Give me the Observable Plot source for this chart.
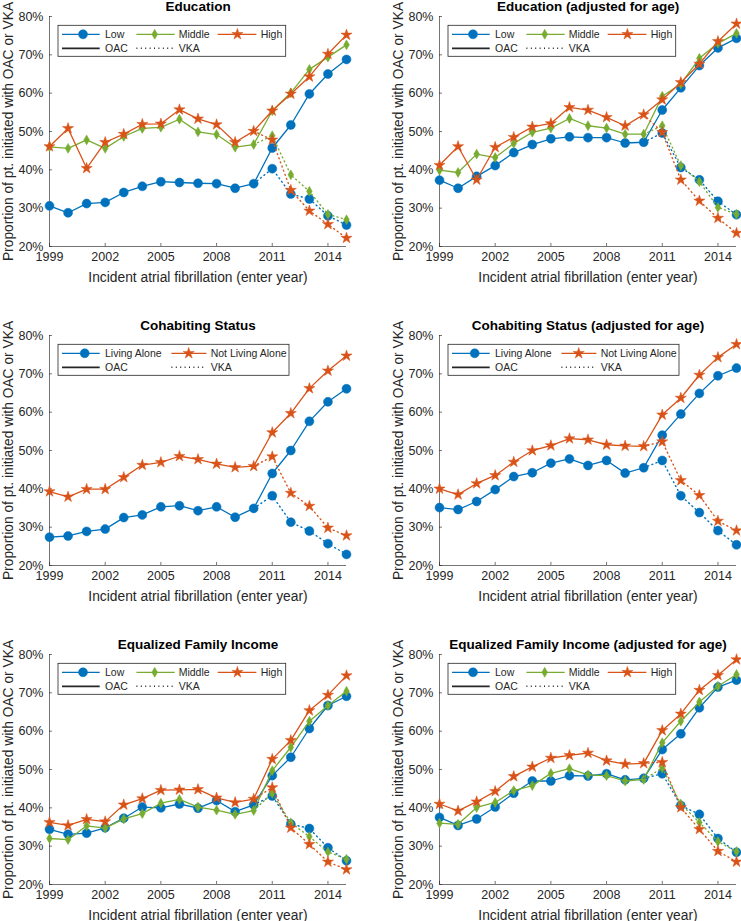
<!DOCTYPE html>
<html>
<head>
<meta charset="utf-8">
<script src="https://cdn.jsdelivr.net/npm/d3@7"></script>
<script src="https://cdn.jsdelivr.net/npm/@observablehq/plot@0.6"></script>
<style>
  body { margin: 0; background: #fff; }
  #wrap { position: relative; width: 741px; height: 921px; overflow: hidden; background: #fff; }
  .panel { position: absolute; }
  .panel svg { overflow: visible; }
  .panel g[aria-label$="tick label"] { font-size: 12.5px; }
  .panel g.legend text { text-anchor: start; font-size: 10.5px; }
</style>
</head>
<body>
<div id="wrap"></div>
<script>
// ---------- data ----------
const years = [1999, 2000, 2001, 2002, 2003, 2004, 2005, 2006, 2007, 2008, 2009, 2010, 2011, 2012, 2013, 2014, 2015];
const vkaYears = [2011, 2012, 2013, 2014, 2015];
const xTicks = [1999, 2002, 2005, 2008, 2011, 2014];
const yTicks = [20, 30, 40, 50, 60, 70, 80];

const titles = [
  "Education", "Education (adjusted for age)",
  "Cohabiting Status", "Cohabiting Status (adjusted for age)",
  "Equalized Family Income", "Equalized Family Income (adjusted for age)"
];
const xLabel = "Incident atrial fibrillation (enter year)";
const yLabel = "Proportion of pt. initiated with OAC or VKA";
const levelNames = ["Low", "Middle", "High"];
const cohabNames = ["Living Alone", "Not Living Alone"];
const typeNames = ["OAC", "VKA"];

// Education
const edu_low_oac  = [30.6,28.8,31.2,31.5,34.1,35.7,36.9,36.7,36.5,36.4,35.2,36.4,45.7,51.7,59.8,65.0,68.8];
const edu_mid_oac  = [46.0,45.6,47.8,45.6,48.7,50.8,51.1,53.2,49.9,49.2,45.9,46.6,55.4,60.1,66.2,69.4,72.6];
const edu_high_oac = [46.1,50.8,40.4,47.2,49.3,51.9,52.0,55.7,53.3,51.8,47.2,50.1,55.4,59.8,64.3,70.2,75.2];
const edu_low_vka  = [40.3,33.7,32.4,28.0,25.6];
const edu_mid_vka  = [48.9,38.7,34.4,28.4,27.0];
const edu_high_vka = [47.8,34.7,29.3,25.8,22.2];
// Education adjusted
const eduAdj_low_oac  = [37.3,35.2,38.3,41.1,44.5,46.6,48.1,48.6,48.4,48.4,47.0,47.2,55.6,61.4,67.2,71.8,74.3];
const eduAdj_mid_oac  = [39.9,39.3,44.1,43.2,46.9,49.8,50.9,53.4,51.5,50.9,49.3,49.3,59.2,62.4,69.1,73.0,75.6];
const eduAdj_high_oac = [41.2,46.1,37.4,45.9,48.5,51.2,52.1,56.3,55.6,53.7,51.5,54.4,58.3,62.8,67.6,73.5,78.1];
const eduAdj_low_vka  = [49.6,40.6,37.4,31.8,28.3];
const eduAdj_mid_vka  = [51.5,41.1,36.9,30.2,28.4];
const eduAdj_high_vka = [49.8,37.4,31.9,27.4,23.5];
// Cohabiting
const cohab_alone_oac = [27.4,27.7,28.9,29.5,32.5,33.2,35.3,35.6,34.3,35.3,32.6,34.9,44.0,50.0,57.6,62.7,66.1];
const cohab_not_oac   = [39.3,37.9,39.9,39.9,43.0,46.2,46.9,48.5,47.7,46.5,45.6,45.9,54.7,59.7,66.2,70.8,74.7];
const cohab_alone_vka = [38.2,31.3,29.0,25.7,22.9];
const cohab_not_vka   = [48.4,38.9,35.5,29.8,27.8];
// Cohabiting adjusted
const cohabAdj_alone_oac = [35.1,34.6,36.7,39.8,43.2,44.2,46.7,47.8,46.1,47.4,44.1,45.5,54.0,59.5,64.9,69.5,71.5];
const cohabAdj_not_oac   = [40.0,38.5,41.4,43.5,47.0,50.0,51.3,53.1,52.8,51.5,51.2,51.1,59.3,63.7,69.7,74.3,77.7];
const cohabAdj_alone_vka = [47.4,38.2,33.8,29.1,25.4];
const cohabAdj_not_vka   = [52.3,42.2,38.3,31.6,29.1];
// Income
const inc_low_oac  = [34.4,33.1,33.4,34.8,37.3,40.2,40.0,41.0,39.9,41.9,39.0,40.8,48.4,53.2,60.7,66.7,69.1];
const inc_mid_oac  = [32.0,31.7,35.3,34.7,37.1,38.5,41.2,42.2,40.2,39.4,38.3,39.3,49.7,55.8,62.6,66.7,70.4];
const inc_high_oac = [36.2,35.4,37.0,36.4,40.8,42.4,44.6,44.7,44.8,42.6,41.4,42.3,52.7,57.6,65.4,69.4,74.5];
const inc_low_vka  = [43.1,35.8,34.6,29.6,26.2];
const inc_mid_vka  = [43.8,36.1,32.5,28.5,26.6];
const inc_high_vka = [45.3,34.8,30.5,25.9,23.9];
// Income adjusted
const incAdj_low_oac  = [37.5,35.4,37.1,40.2,43.8,47.0,47.0,48.4,48.3,48.9,47.3,47.7,55.2,59.3,66.1,71.5,73.3];
const incAdj_mid_oac  = [36.0,35.7,40.1,41.4,44.5,45.8,49.0,50.2,48.6,48.4,47.0,47.4,57.0,62.6,67.6,71.7,74.8];
const incAdj_high_oac = [41.0,39.2,41.6,44.3,48.2,50.7,53.0,53.7,54.3,52.3,51.4,51.6,60.2,64.5,70.7,74.6,78.7];
const incAdj_low_vka  = [48.9,40.6,38.3,32.0,28.4];
const incAdj_mid_vka  = [50.4,41.0,36.2,31.2,28.6];
const incAdj_high_vka = [51.9,40.1,34.4,28.7,25.9];

// ---------- styles ----------
const BLUE = "#0072BD", GREEN = "#77AC30", ORANGE = "#D95319", INK = "#262626";
const FONT = "'Liberation Sans', Arial, Helvetica, sans-serif";
const DOTS = "1,3.4";
const styleLow  = {color: BLUE, symbol: "circle", r: 4.5};
const styleMid  = {color: GREEN, symbol: "diamond", r: 3.0};
const styleHigh = {color: ORANGE, symbol: "star", r: 3.5};

function three(lo, lov, mi, miv, hi, hiv) {
  return [
    {name: levelNames[0], oac: lo, vka: lov, ...styleLow},
    {name: levelNames[1], oac: mi, vka: miv, ...styleMid},
    {name: levelNames[2], oac: hi, vka: hiv, ...styleHigh}
  ];
}
function two(a, av, b, bv) {
  return [
    {name: cohabNames[0], oac: a, vka: av, ...styleLow},
    {name: cohabNames[1], oac: b, vka: bv, ...styleHigh}
  ];
}

const panels = [
  {title: titles[0], col: 0, row: 0, series: three(edu_low_oac, edu_low_vka, edu_mid_oac, edu_mid_vka, edu_high_oac, edu_high_vka)},
  {title: titles[1], col: 1, row: 0, series: three(eduAdj_low_oac, eduAdj_low_vka, eduAdj_mid_oac, eduAdj_mid_vka, eduAdj_high_oac, eduAdj_high_vka)},
  {title: titles[2], col: 0, row: 1, series: two(cohab_alone_oac, cohab_alone_vka, cohab_not_oac, cohab_not_vka)},
  {title: titles[3], col: 1, row: 1, series: two(cohabAdj_alone_oac, cohabAdj_alone_vka, cohabAdj_not_oac, cohabAdj_not_vka)},
  {title: titles[4], col: 0, row: 2, series: three(inc_low_oac, inc_low_vka, inc_mid_oac, inc_mid_vka, inc_high_oac, inc_high_vka)},
  {title: titles[5], col: 1, row: 2, series: three(incAdj_low_oac, incAdj_low_vka, incAdj_mid_oac, incAdj_mid_vka, incAdj_high_oac, incAdj_high_vka)}
];

const W = 351, MT = 16, MB = 40, ML = 49, MR = 5, PH = 230;
const colLeft = [0, 390];
const rowTop = [0, 319, 637.5];

function makePanel(p) {
  const oacData = p.series.map(s => years.map((yr, i) => ({x: yr, y: s.oac[i]})));
  const vkaData = p.series.map(s => {
    const start = {x: 2010, y: s.oac[years.indexOf(2010)]};
    return [start, ...vkaYears.map((yr, i) => ({x: yr, y: s.vka[i]}))];
  });
  const marks = [];
  // axes lines & inward ticks
  marks.push(Plot.ruleY([20], {stroke: INK, strokeWidth: 0.8, strokeOpacity: 0.8}));
  marks.push(Plot.ruleX([1999], {stroke: INK, strokeWidth: 0.8, strokeOpacity: 0.8}));
  marks.push(Plot.ruleX(xTicks, {x: d => d, y1: 20, y2: 20.8, stroke: INK, strokeWidth: 0.8, strokeOpacity: 0.8}));
  marks.push(Plot.ruleY(yTicks, {y: d => d, x1: 1999, x2: 1999.16, stroke: INK, strokeWidth: 0.8, strokeOpacity: 0.8}));
  marks.push(Plot.axisX({ticks: xTicks, tickSize: 0, tickPadding: 6, tickFormat: d => String(d), label: null, fill: INK}));
  marks.push(Plot.axisY({ticks: yTicks, tickSize: 0, tickPadding: 6, tickFormat: d => d + "%", label: null, fill: INK}));
  // series
  p.series.forEach((s, k) => {
    marks.push(Plot.line(oacData[k], {x: "x", y: "y", stroke: s.color, strokeWidth: 1.3}));
    marks.push(Plot.dot(oacData[k], {x: "x", y: "y", symbol: s.symbol, r: s.r, fill: s.color, stroke: s.color, strokeWidth: 0.5}));
  });
  p.series.forEach((s, k) => {
    marks.push(Plot.line(vkaData[k], {x: "x", y: "y", stroke: s.color, strokeWidth: 1.4, strokeDasharray: DOTS}));
    marks.push(Plot.dot(vkaData[k].slice(1), {x: "x", y: "y", symbol: s.symbol, r: s.r, fill: s.color, stroke: s.color, strokeWidth: 0.5}));
  });
  // texts
  marks.push(Plot.text([p.title], {frameAnchor: "top", dy: -10, lineAnchor: "middle", textAnchor: "middle", fontWeight: "bold", fontSize: 13.5, fill: "#000"}));
  marks.push(Plot.text([xLabel], {frameAnchor: "bottom", dy: 31, lineAnchor: "middle", textAnchor: "middle", fontSize: 13.8, fill: INK}));
  marks.push(Plot.text([yLabel], {frameAnchor: "left", dx: -41, rotate: -90, lineAnchor: "middle", textAnchor: "middle", fontSize: 13.8, fill: INK}));

  const svg = Plot.plot({
    width: W, height: MT + PH + MB,
    marginTop: MT, marginBottom: MB, marginLeft: ML, marginRight: MR,
    style: {fontFamily: FONT, fontSize: "12px", color: INK, background: "transparent"},
    x: {domain: [1999, 2015], axis: null},
    y: {domain: [20, 80], axis: null},
    marks
  });

  // legend
  const isThree = p.series.length === 3;
  const Lx = ML + 9, Ly = MT + 9.3;
  const bw = isThree ? 227.7 : 231, bh = 31;
  const g = d3.select(svg).append("g").attr("class", "legend").attr("font-family", FONT).attr("fill", INK);
  g.append("rect").attr("x", Lx).attr("y", Ly).attr("width", bw).attr("height", bh)
    .attr("fill", "#fff").attr("stroke", INK).attr("stroke-width", 0.8);
  const cols = isThree
    ? [{l0: 4, l1: 41.7, m: 25, t: 47}, {l0: 78.4, l1: 116.7, m: 96.7, t: 120.7}, {l0: 159.7, l1: 198.4, m: 179.4, t: 202.7}]
    : [{l0: 4, l1: 41.7, m: 26.7, t: 47}, {l0: 113.4, l1: 148.4, m: 130.7, t: 152.7}];
  const r1 = Ly + 9, r2 = Ly + 23;
  p.series.forEach((s, k) => {
    const c = cols[k];
    g.append("line").attr("x1", Lx + c.l0).attr("x2", Lx + c.l1).attr("y1", r1).attr("y2", r1)
      .attr("stroke", s.color).attr("stroke-width", 1.3);
    const sym = s.symbol === "circle" ? d3.symbolCircle : s.symbol === "diamond" ? d3.symbolDiamond : d3.symbolStar;
    g.append("path").attr("d", d3.symbol(sym, Math.PI * s.r * s.r)())
      .attr("transform", `translate(${Lx + c.m},${r1})`).attr("fill", s.color).attr("stroke", s.color).attr("stroke-width", 0.5);
    g.append("text").attr("x", Lx + c.t).attr("y", r1).attr("dy", "0.35em").text(s.name);
  });
  // OAC / VKA
  g.append("line").attr("x1", Lx + cols[0].l0).attr("x2", Lx + cols[0].l1).attr("y1", r2).attr("y2", r2)
    .attr("stroke", INK).attr("stroke-width", 1.8);
  g.append("text").attr("x", Lx + cols[0].t).attr("y", r2).attr("dy", "0.35em").text(typeNames[0]);
  g.append("line").attr("x1", Lx + cols[1].l0).attr("x2", Lx + cols[1].l1).attr("y1", r2).attr("y2", r2)
    .attr("stroke", INK).attr("stroke-width", 1.5).attr("stroke-dasharray", DOTS);
  g.append("text").attr("x", Lx + cols[1].t).attr("y", r2).attr("dy", "0.35em").text(typeNames[1]);

  const div = document.createElement("div");
  div.className = "panel";
  div.style.left = colLeft[p.col] + "px";
  div.style.top = rowTop[p.row] + "px";
  div.appendChild(svg);
  document.getElementById("wrap").appendChild(div);
}

panels.forEach(makePanel);
</script>
</body>
</html>
